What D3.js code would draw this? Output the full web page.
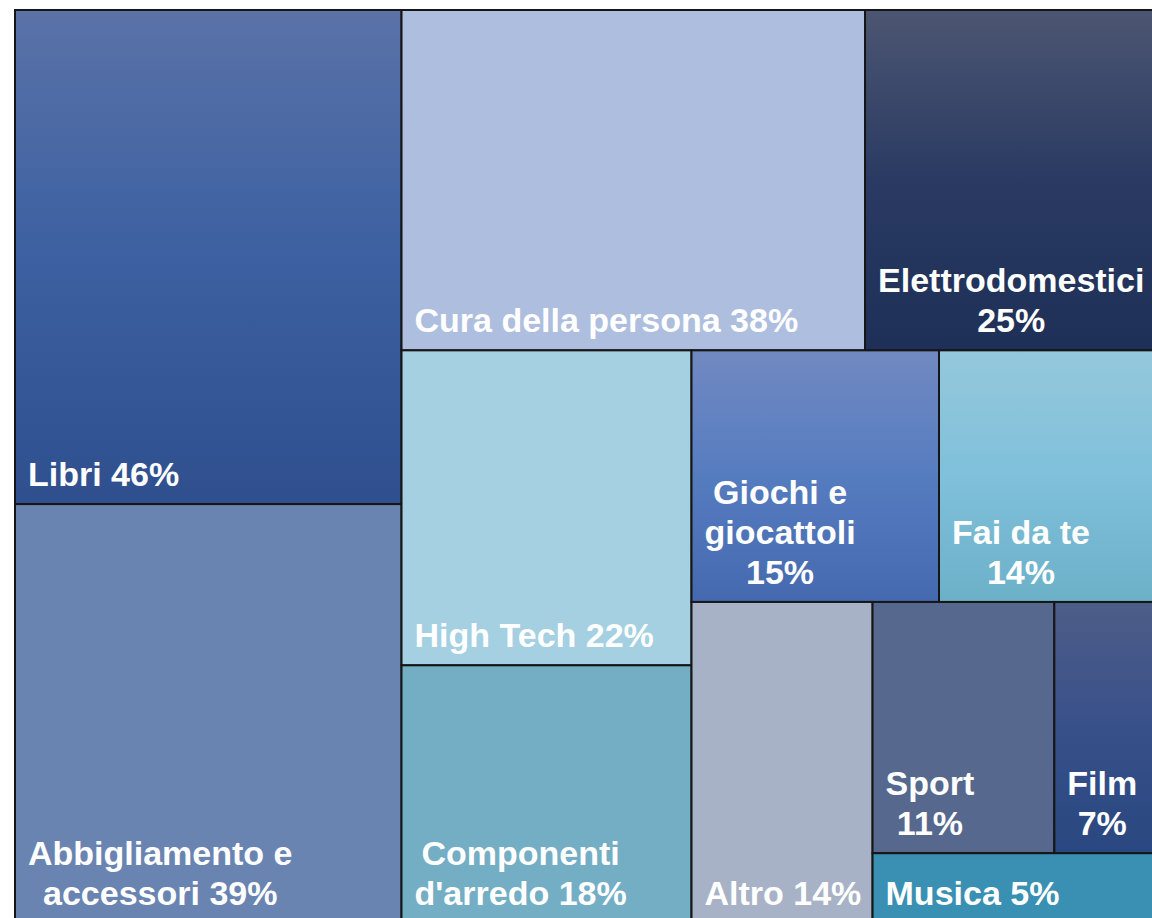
<!DOCTYPE html>
<html>
<head>
<meta charset="utf-8">
<script src="https://cdn.jsdelivr.net/npm/d3@7"></script>
<style>
  body { margin: 0; background: #fff; }
  svg { display: block; overflow: hidden; }
  .label { font-family: "Liberation Sans", Arial, sans-serif; font-weight: bold; font-size: 34px; fill: #fff; }
</style>
</head>
<body>
<div id="chart"></div>
<script>
// data
const categories = ['Libri', 'Abbigliamento e accessori', 'Cura della persona', 'Elettrodomestici',
    'High Tech', "Componenti d'arredo", 'Giochi e giocattoli', 'Fai da te', 'Altro', 'Sport', 'Film', 'Musica'];
const values = [46, 39, 38, 25, 22, 18, 15, 14, 14, 11, 7, 5];
// label text with its line breaks, {v} is replaced by the value
const labelTemplates = ['Libri {v}%', 'Abbigliamento e\naccessori {v}%', 'Cura della persona {v}%', 'Elettrodomestici\n{v}%',
    'High Tech {v}%', "Componenti\nd'arredo {v}%", 'Giochi e\ngiocattoli\n{v}%', 'Fai da te\n{v}%', 'Altro {v}%',
    'Sport\n{v}%', 'Film\n{v}%', 'Musica {v}%'];

// fill per category: top, middle, bottom of a vertical gradient
const fills = {
    'Libri': ['#5a72a8', '#3c60a1', '#2f4f8e'],
    'Abbigliamento e accessori': ['#6a84b2', '#6a84b2', '#6a84b2'],
    'Cura della persona': ['#aebedf', '#aebedf', '#aebedf'],
    'Elettrodomestici': ['#4c5672', '#2a3a62', '#1e3057'],
    'High Tech': ['#a4d0e2', '#a4d0e2', '#a4d0e2'],
    "Componenti d'arredo": ['#74aec4', '#74aec4', '#74aec4'],
    'Giochi e giocattoli': ['#7189c2', '#567cc0', '#4569ae'],
    'Fai da te': ['#94c8dc', '#80c0da', '#6cb0c8'],
    'Altro': ['#a8b2c6', '#a8b2c6', '#a8b2c6'],
    'Sport': ['#56688e', '#56688e', '#56688e'],
    'Film': ['#4e5d88', '#38508a', '#294780'],
    'Musica': ['#3a90b2', '#3a90b2', '#3a90b2']
};

let margin = {top: 10, left: 15};
let width = 1155, height = 913; // runs past the right and bottom edge of the picture

let svg = d3.select('#chart').append('svg')
    .attr('width', 1152)
    .attr('height', 918);
let defs = svg.append('defs');
let g = svg.append('g')
    .attr('transform', 'translate(' + margin.left + ',' + margin.top + ')');

let root = d3.hierarchy({children: categories.map(function(c, i) {
        return {name: c, value: values[i], label: labelTemplates[i].replace('{v}', values[i])};
    })})
    .sum(function(d) { return d.value || 0; })
    .sort(function(a, b) { return b.value - a.value; });

d3.treemap()
    .tile(d3.treemapSquarify.ratio(1.1))
    .size([width, height])(root);

let leaves = root.leaves();

leaves.forEach(function(d, i) { // vertical gradient for each cell
    let grad = defs.append('linearGradient')
        .attr('id', 'grad' + i)
        .attr('x1', 0).attr('y1', 0).attr('x2', 0).attr('y2', 1);
    let c = fills[d.data.name];
    grad.append('stop').attr('offset', '0%').attr('stop-color', c[0]);
    grad.append('stop').attr('offset', '50%').attr('stop-color', c[1]);
    grad.append('stop').attr('offset', '100%').attr('stop-color', c[2]);
});

let cell = g.selectAll('g.cell')
    .data(leaves).enter().append('g')
    .attr('class', 'cell');

cell.append('rect')
    .attr('x', function(d) { return d.x0; })
    .attr('y', function(d) { return d.y0; })
    .attr('width', function(d) { return d.x1 - d.x0; })
    .attr('height', function(d) { return d.y1 - d.y0; })
    .attr('fill', function(d, i) { return 'url(#grad' + i + ')'; })
    .attr('stroke', '#161616')
    .attr('stroke-width', 2);

let pad = 13, bottomPad = 18, lineHeight = 40;
cell.each(function(d) { // labels: block at bottom left, lines centred inside the block
    let lines = d.data.label.split('\n');
    let texts = d3.select(this).selectAll('text.label')
        .data(lines).enter().append('text')
        .attr('class', 'label')
        .attr('text-anchor', 'middle')
        .attr('y', function(l, k) { return d.y1 - bottomPad - (lines.length - 1 - k) * lineHeight; })
        .text(function(l) { return l; });
    let blockW = 0;
    texts.each(function() { blockW = Math.max(blockW, this.getComputedTextLength()); });
    texts.attr('x', d.x0 + pad + blockW / 2);
});
</script>
</body>
</html>
